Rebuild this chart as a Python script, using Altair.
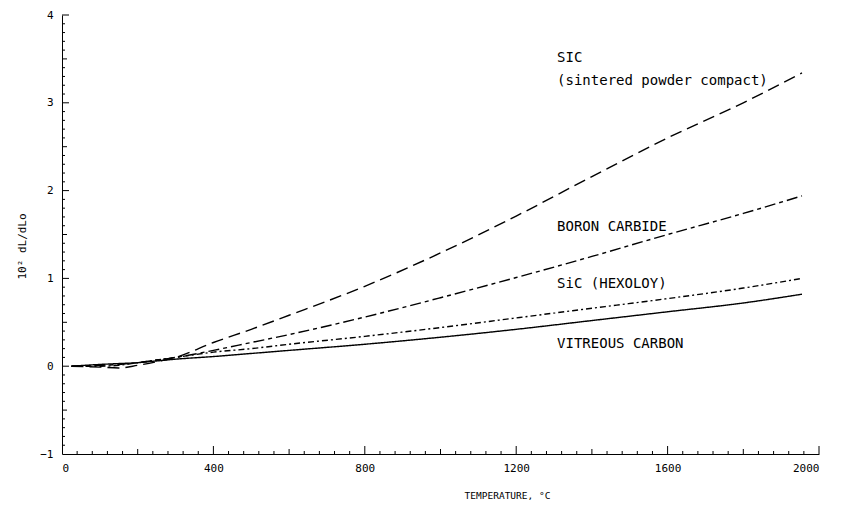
import altair as alt
import pandas as pd

# ---- data ----
temps = [25, 100, 150, 200, 250, 300, 400, 500, 600, 800, 1000, 1200, 1400, 1600, 1800, 1955]
sic_sintered = [0.0, -0.01, -0.02, 0.01, 0.05, 0.10, 0.27, 0.42, 0.58, 0.91, 1.29, 1.71, 2.16, 2.60, 3.00, 3.34]
boron_carbide = [0.0, 0.01, 0.02, 0.04, 0.07, 0.10, 0.18, 0.27, 0.36, 0.56, 0.78, 1.01, 1.25, 1.50, 1.74, 1.94]
sic_hexoloy = [0.0, 0.0, 0.01, 0.04, 0.07, 0.10, 0.16, 0.20, 0.25, 0.34, 0.44, 0.55, 0.66, 0.77, 0.89, 1.00]
vitreous_carbon = [0.0, 0.02, 0.03, 0.04, 0.06, 0.08, 0.11, 0.145, 0.18, 0.25, 0.33, 0.42, 0.52, 0.62, 0.72, 0.82]

series_names = ["SiC sintered", "Boron carbide", "SiC hexoloy", "Vitreous carbon"]
series_values = [sic_sintered, boron_carbide, sic_hexoloy, vitreous_carbon]

x_major = [0, 400, 800, 1200, 1600, 2000]
y_major = [-1, 0, 1, 2, 3, 4]

label_texts = ["SIC", "(sintered powder compact)", "BORON CARBIDE", "SiC (HEXOLOY)", "VITREOUS CARBON"]
label_x = [1308, 1308, 1308, 1308, 1308]
label_y = [3.51, 3.25, 1.59, 0.94, 0.25]

# ---- tables ----
rows = []
for name, vals in zip(series_names, series_values):
    for t, v in zip(temps, vals):
        rows.append({"T": t, "v": v, "s": name})
curves = pd.DataFrame(rows)

labels = pd.DataFrame({"T": label_x, "v": label_y, "txt": label_texts})

x_minor = pd.DataFrame({"T": [t for t in range(0, 2001, 40) if t % 200 != 0]})
x_mid = pd.DataFrame({"T": [t for t in range(200, 2001, 400)]})
x_maj = pd.DataFrame({"T": x_major[1:]})
y_minor = pd.DataFrame({"v": [i / 10 for i in range(-10, 41) if i % 5 != 0]})
y_mid = pd.DataFrame({"v": [i / 10 for i in range(-5, 41, 10)]})
y_maj = pd.DataFrame({"v": y_major[1:]})

FONT = "DejaVu Sans Mono"
xs = alt.Scale(domain=[0, 2000], nice=False, zero=False)
ys = alt.Scale(domain=[-1, 4], nice=False, zero=False)

xenc = alt.X("T:Q", scale=xs, axis=alt.Axis(
    values=x_major, format="d", ticks=False, grid=False, domainColor="black",
    labelFont=FONT, labelFontSize=11, labelColor="black", labelPadding=8,
    title="TEMPERATURE, °C", titleFont=FONT, titleFontSize=9.5, titleFontWeight="normal",
    titleColor="black", titleX=445, titleY=41, titleBaseline="middle"))
yenc = alt.Y("v:Q", scale=ys, axis=alt.Axis(
    values=y_major, format="d", ticks=False, grid=False, domainColor="black",
    labelFont=FONT, labelFontSize=11, labelColor="black", labelPadding=9,
    title="10² dL/dLo", titleFont=FONT, titleFontSize=11, titleFontWeight="normal",
    titleColor="black", titleX=-40, titleY=231, titleBaseline="middle", titleAngle=270))

lines = alt.Chart(curves).mark_line(color="black", strokeWidth=1.4, interpolate="monotone").encode(
    x=xenc, y=yenc,
    strokeDash=alt.StrokeDash("s:N", legend=None, scale=alt.Scale(
        domain=series_names,
        range=[[12, 6], [11, 4, 4, 4], [6, 3, 2, 3], [1, 0]])),
    detail="s:N",
)

text = alt.Chart(labels).mark_text(align="left", baseline="middle", font=FONT, fontSize=14,
                                   color="black").encode(x="T:Q", y="v:Q", text="txt:N")

def xt(df, size):
    return alt.Chart(df).mark_rule(color="black", strokeWidth=1, y2Offset=-size).encode(
        x="T:Q", y=alt.datum(-1), y2=alt.datum(-1))

def yt(df, size):
    return alt.Chart(df).mark_rule(color="black", strokeWidth=1, x2Offset=size).encode(
        y="v:Q", x=alt.datum(0), x2=alt.datum(0))

chart = alt.layer(
    lines, text,
    xt(x_minor, 3), xt(x_mid, 5), xt(x_maj, 8),
    yt(y_minor, 3), yt(y_mid, 5), yt(y_maj, 7),
).properties(
    width=757, height=439,
    autosize=alt.AutoSizeParams(type="none"),
    padding={"left": 62, "top": 15, "right": 37, "bottom": 52},
    background="white",
).configure_view(stroke=None)

chart.save("out.html", embed_options={"renderer": "svg", "actions": False})
